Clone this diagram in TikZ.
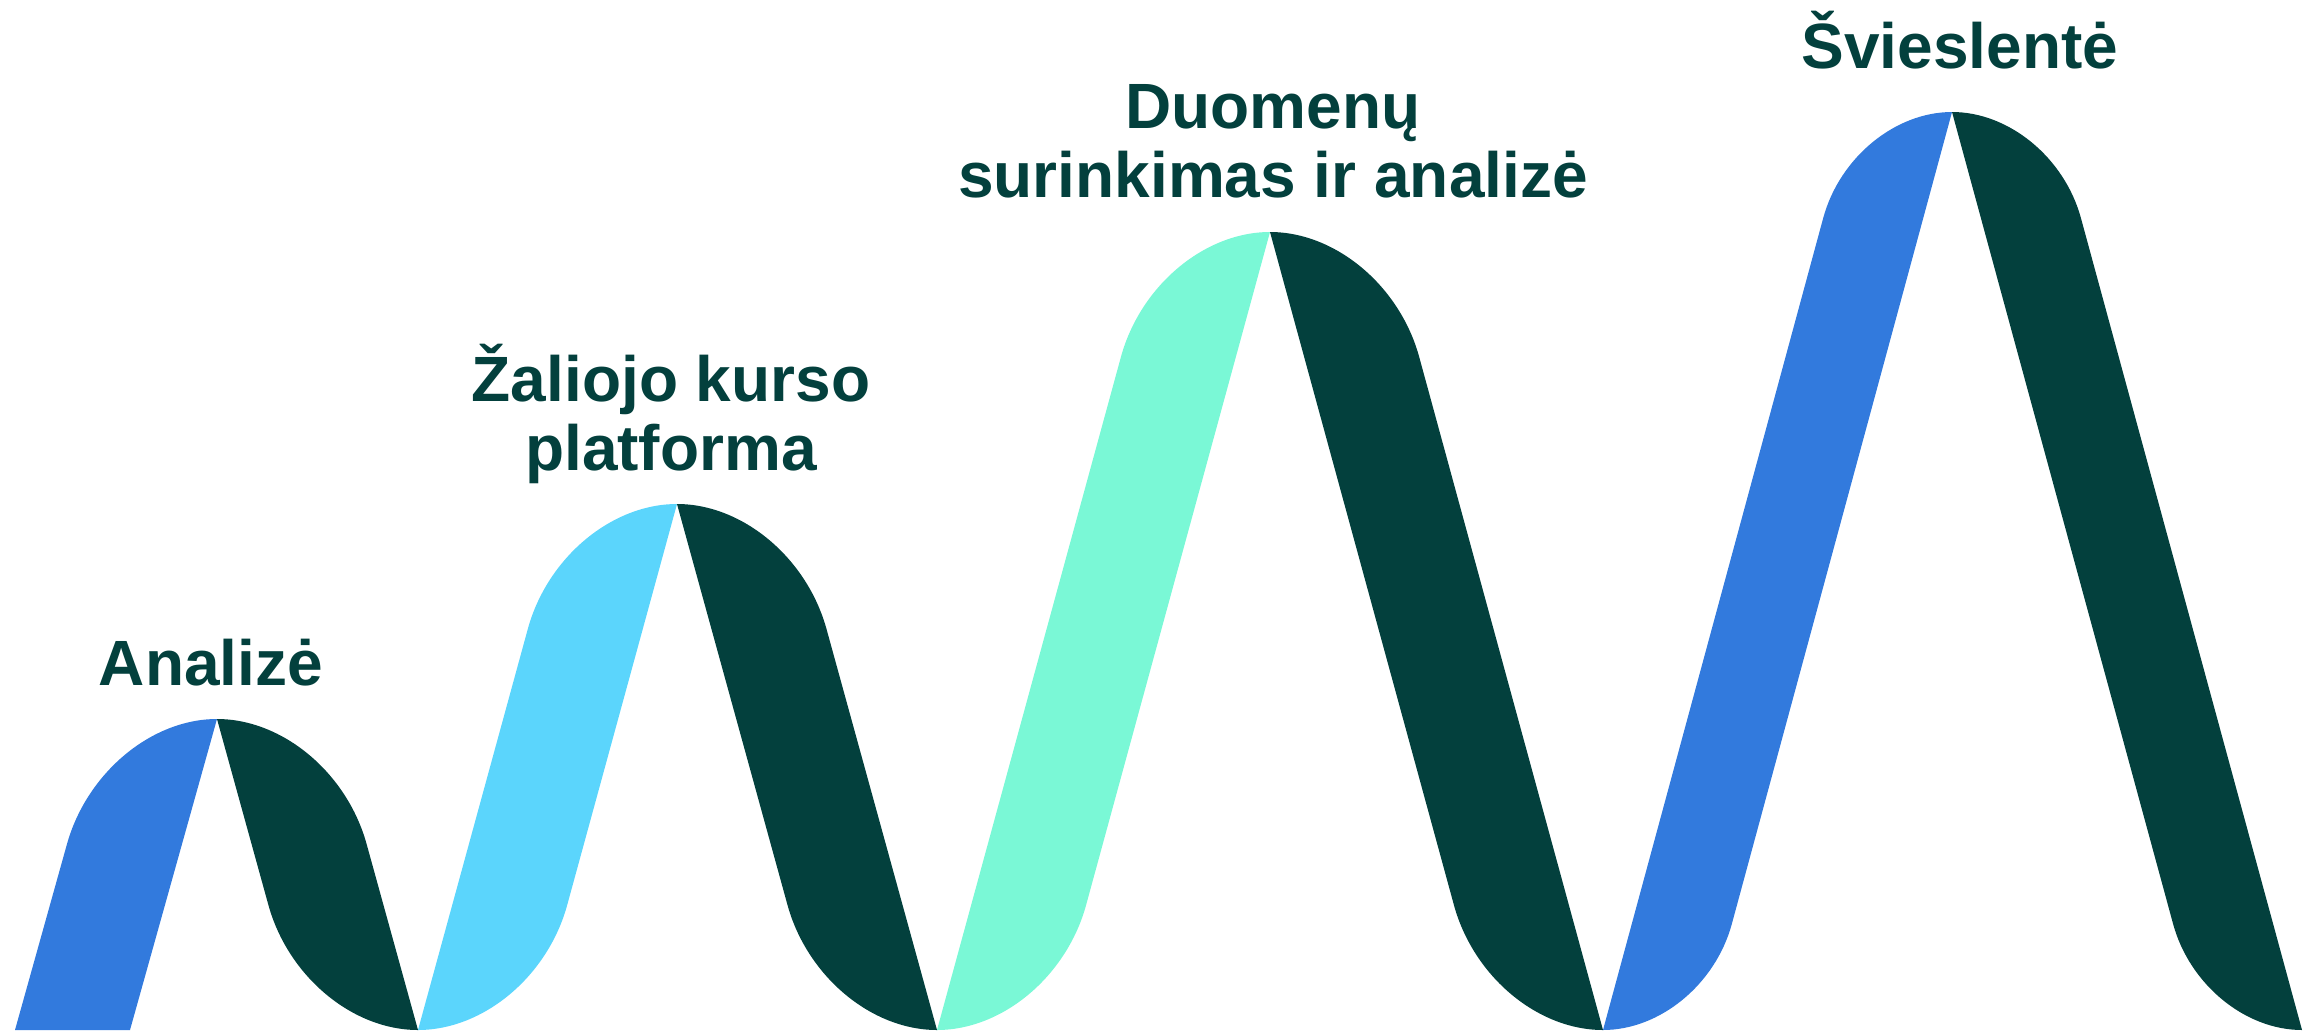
\documentclass[tikz,border=0pt]{standalone}
\usepackage{fontspec}
\setmainfont{Liberation Sans}
\usepackage{tikz}
\usetikzlibrary{positioning}

\definecolor{waveblue}{RGB}{50,122,221}
\definecolor{wavesky}{RGB}{91,213,252}
\definecolor{wavemint}{RGB}{122,248,214}
\definecolor{wavedark}{RGB}{3,64,61}

\tikzset{
	steplabel/.style={font=\fontsize{18.2}{19.5}\selectfont\bfseries, text=wavedark, align=center, inner sep=0pt, anchor=base}
}

\begin{document}
\begin{tikzpicture}[x=0.01cm, y=0.01cm]
			\useasboundingbox (0,0) rectangle (2318,1032);
			
			% first rising band, cut off at the bottom
			\fill[waveblue] (15,2) -- (67,188) .. controls (87,259.3) and (151.4,313) .. (217,313) -- (130,2) -- cycle;
			\fill[wavedark] (217,313) .. controls (282.6,313) and (346.9,259.3) .. (366.6,188) -- (418,2) .. controls (352.4,2) and (288.1,55.7) .. (268.4,127) -- cycle;
			
			\fill[wavesky] (418,2) -- (527.8,403) .. controls (547.3,474.3) and (611.4,528) .. (677,528) -- (567.2,127) .. controls (547.7,55.7) and (483.6,2) .. cycle;
			\fill[wavedark] (677,528) .. controls (742.6,528) and (806.8,474.3) .. (826.5,403) -- (937,2) .. controls (871.4,2) and (807.2,55.7) .. (787.5,127) -- cycle;
			
			\fill[wavemint] (937,2) -- (1120.9,675) .. controls (1140.4,746.3) and (1204.4,800) .. (1270,800) -- (1086.1,127) .. controls (1066.6,55.7) and (1002.6,2) .. cycle;
			\fill[wavedark] (1270,800) .. controls (1335.6,800) and (1399.7,746.3) .. (1419.2,675) -- (1603,2) .. controls (1537.4,2) and (1473.4,55.7) .. (1453.9,127) -- cycle;
			
			% last pair is a bit narrower
			\fill[waveblue] (1603,2) -- (1823.2,814) .. controls (1839.6,874.4) and (1895,920) .. (1952,920) -- (1731.8,108) .. controls (1715.4,47.6) and (1660,2) .. cycle;
			\fill[wavedark] (1952,920) .. controls (2009,920) and (2064.4,874.4) .. (2080.9,814) -- (2302,2) .. controls (2245,2) and (2189.6,47.6) .. (2173.1,108) -- cycle;
			
			% base of the last line of each label
			\node[steplabel] (analize) at (211,347) {Analizė};
			\node[steplabel] (zaliasis) at (671,562) {Žaliojo kurso\\platforma};
			\node[steplabel] (duomenys) at (1273,835) {Duomenų\\surinkimas ir analizė};
			\node[steplabel] (svieslente) at (1960,964) {Švieslentė};
			\end{tikzpicture}
\end{document}
